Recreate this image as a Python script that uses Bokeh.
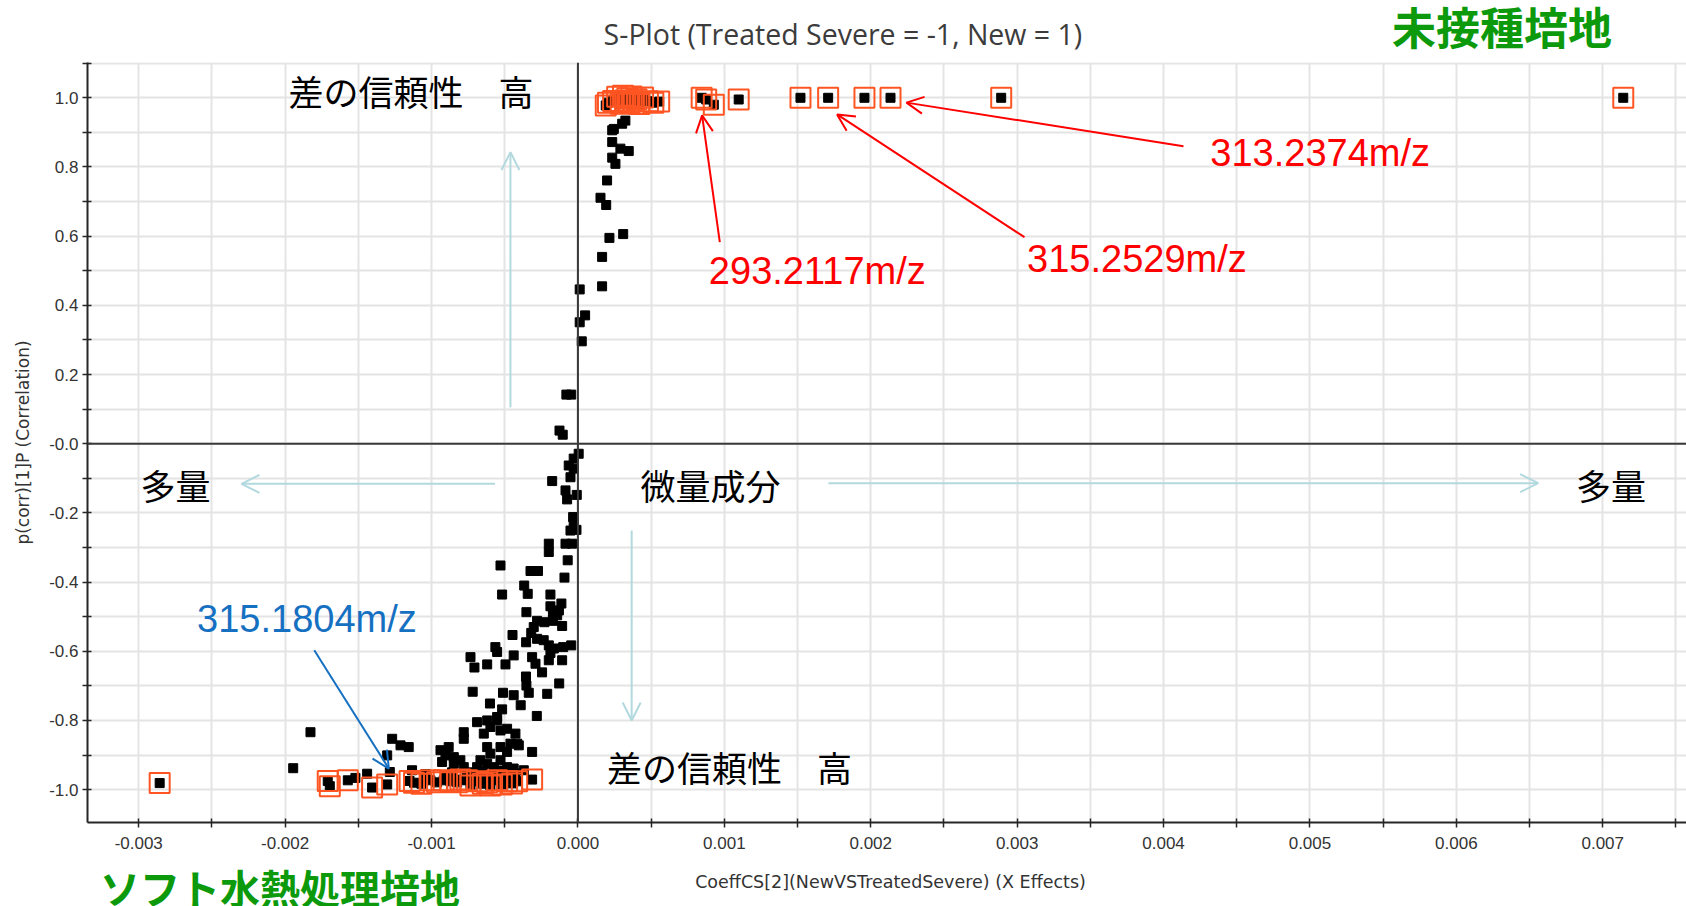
from bokeh.plotting import figure
from bokeh.layouts import column
from bokeh.models import Range1d, FixedTicker, Span, Label, Arrow, OpenHead
from bokeh.embed import file_html
from bokeh.resources import INLINE

# Coefficients are listed in units of 1e-3 (CoeffCS), correlations as p(corr).
E3 = 1e-3

# positive branch of the S (rising towards p(corr) = +1)
upper_coeff_e3 = [0.154, 0.193, 0.215, 0.309, 0.165, 0.165, 0.012, 0.049, 0.012, 0.026,
                  -0.079, -0.046, -0.126, -0.104,
                  0.324, 0.302, 0.245, 0.234, 0.234, 0.290, 0.347, 0.234, 0.256, 0.199]
upper_corr = [0.711, 0.690, 0.595, 0.606, 0.540, 0.455, 0.446, 0.371, 0.351, 0.296,
              0.142, 0.142, 0.038, 0.026,
              0.934, 0.925, 0.910, 0.906, 0.872, 0.853, 0.846, 0.827, 0.809, 0.761]

# selected variables close to p(corr) = +1
top_coeff_e3 = [0.190, 0.205, 0.240, 0.268, 0.292, 0.308, 0.322, 0.338, 0.352, 0.366,
                0.382, 0.400, 0.420, 0.445, 0.478, 0.515, 0.555,
                0.845, 0.876, 0.928, 1.098, 1.520, 1.709, 1.957, 2.135, 2.891, 7.140]
top_corr = [0.978, 0.986, 0.991, 1.003, 0.983, 1.006, 0.992, 0.999, 0.985, 1.004,
            0.990, 0.996, 0.982, 1.001, 0.990, 0.986, 0.989,
            1.000, 0.995, 0.980, 0.995, 1.000, 1.000, 1.000, 1.000, 1.000, 1.000]

# negative branch of the S (falling towards p(corr) = -1)
lower_coeff_e3 = [0.005, -0.029, -0.063, -0.029, -0.051, -0.176, -0.085, -0.074, -0.008, -0.033,
                  -0.029, -0.051, -0.010, -0.199, -0.199, -0.085, -0.040, -0.070, -0.529, -0.324,
                  -0.273, -0.092, -0.367, -0.343, -0.518, -0.188, -0.188, -0.113, -0.171, -0.130,
                  -0.142, -0.352, -0.279, -0.229, -0.171, -0.108, -0.302, -0.319, -0.447,
                  -0.354, -0.279, -0.234, -0.199, -0.165, -0.101, -0.046, -0.564, -0.552, -0.734,
                  -0.707, -0.620, -0.495, -0.439, -0.313, -0.290, -0.199, -0.188, -0.108, -0.245,
                  -0.355, -0.352, -0.336, -0.210, -0.128, -0.719, -0.601, -0.518, -0.512, -0.439,
                  -0.391, -0.281, -0.552,
                  -0.689, -0.620, -0.552, -0.598, -0.529, -0.484, -0.643, -0.780, -0.780, -0.427,
                  -0.415, -0.939, -0.883, -0.905, -0.848, -0.803, -0.780, -0.620, -0.598, -0.529,
                  -0.484, -0.461, -0.404, -0.313, -0.666, -0.689, -0.620, -0.575, -0.529, -0.484,
                  -0.439, -0.928, -0.848, -0.370,
                  -1.827, -1.945, -1.269, -1.212, -1.156, -1.303, -1.285, -1.440, -1.133, -1.520,
                  -0.734, -0.666, -0.564, -0.495, -0.427, -0.760, -0.600, -0.540, -0.650, -0.700,
                  -0.460, -0.860, -0.900, -1.040]
lower_corr = [-0.029, -0.043, -0.063, -0.072, -0.097, -0.108, -0.135, -0.161, -0.148, -0.212,
              -0.231, -0.251, -0.249, -0.289, -0.313, -0.289, -0.289, -0.337, -0.352, -0.368,
              -0.368, -0.387, -0.410, -0.434, -0.436, -0.436, -0.470, -0.462, -0.488, -0.482,
              -0.496, -0.487, -0.512, -0.516, -0.512, -0.527, -0.530, -0.547, -0.553,
              -0.574, -0.564, -0.568, -0.583, -0.592, -0.588, -0.583, -0.588, -0.602, -0.617,
              -0.647, -0.638, -0.638, -0.612, -0.617, -0.636, -0.626, -0.605, -0.626, -0.661,
              -0.673, -0.699, -0.720, -0.723, -0.693, -0.717, -0.751, -0.768, -0.720, -0.727,
              -0.756, -0.787, -0.790,
              -0.805, -0.800, -0.800, -0.819, -0.829, -0.824, -0.838, -0.834, -0.853, -0.838,
              -0.867, -0.886, -0.877, -0.901, -0.906, -0.915, -0.935, -0.877, -0.896, -0.877,
              -0.891, -0.867, -0.872, -0.891, -0.915, -0.935, -0.925, -0.935, -0.915, -0.935,
              -0.939, -0.920, -0.925, -0.944,
              -0.834, -0.938, -0.853, -0.872, -0.877, -0.901, -0.949, -0.954, -0.944, -0.966,
              -0.950, -0.958, -0.950, -0.958, -0.953, -0.960, -0.962, -0.945, -0.948, -0.965,
              -0.962, -0.950, -0.960, -0.955]

# selected variables close to p(corr) = -1
bottom_coeff_e3 = [-2.857, -1.709, -1.695, -1.572, -1.406, -1.303, -1.150, -1.120, -1.069, -1.008,
                   -0.962, -0.917, -0.871, -0.825, -0.803, -0.757, -0.734, -0.689, -0.650, -0.620,
                   -0.598, -0.552, -0.520, -0.484, -0.450, -0.415, -0.313]
bottom_corr = [-0.981, -0.975, -0.990, -0.973, -0.994, -0.985, -0.975, -0.980, -0.983, -0.973,
               -0.979, -0.973, -0.976, -0.979, -0.971, -0.973, -0.988, -0.976, -0.983, -0.979,
               -0.988, -0.973, -0.985, -0.976, -0.982, -0.976, -0.971]

# axis ticks
x_ticks = [-0.003, -0.002, -0.001, 0.0, 0.001, 0.002, 0.003, 0.004, 0.005, 0.006, 0.007]
x_tick_labels = ["-0.003", "-0.002", "-0.001", "0.000", "0.001", "0.002", "0.003",
                 "0.004", "0.005", "0.006", "0.007"]
x_minor_ticks = [-0.0025, -0.0015, -0.0005, 0.0005, 0.0015, 0.0025, 0.0035, 0.0045,
                 0.0055, 0.0065, 0.0075]
y_ticks = [-1.0, -0.8, -0.6, -0.4, -0.2, 0.0, 0.2, 0.4, 0.6, 0.8, 1.0]
y_tick_labels = ["-1.0", "-0.8", "-0.6", "-0.4", "-0.2", "-0.0", "0.2", "0.4", "0.6", "0.8", "1.0"]
y_minor_ticks = [-1.1, -0.9, -0.7, -0.5, -0.3, -0.1, 0.1, 0.3, 0.5, 0.7, 0.9, 1.1]

# labelled m/z features: (text, label centre, arrow tail, arrow tip), x in 1e-3
red_callouts = [
    ("313.2374m/z", (5.070, 0.840), (4.136, 0.860), (2.244, 0.986)),
    ("315.2529m/z", (3.818, 0.533), (3.050, 0.597), (1.770, 0.952)),
    ("293.2117m/z", (1.635, 0.499), (0.969, 0.583), (0.848, 0.949)),
]
blue_callouts = [
    ("315.1804m/z", (-1.851, -0.506), (-1.801, -0.597), (-1.292, -0.939)),
]

all_x = [v * E3 for v in upper_coeff_e3 + top_coeff_e3 + lower_coeff_e3 + bottom_coeff_e3]
all_y = upper_corr + top_corr + lower_corr + bottom_corr
sel_x = [v * E3 for v in top_coeff_e3 + bottom_coeff_e3]
sel_y = top_corr + bottom_corr

W = 1686
X_LO, X_HI = -0.00335, 0.007572          # plotted coefficient range
Y_LO, Y_HI = -1.095, 1.102               # plotted correlation range
LEFT, TOP_H, FRAME_H, AXIS_H, BOTTOM_H = 87, 62, 760, 40, 44
px_y = (Y_HI - Y_LO) / FRAME_H

JP = "Noto Sans CJK JP"
GREEN = "#0c9a0c"
AX_COL = "#262626"
TICK_FONT = "Liberation Sans"
LABEL_FONT = "DejaVu Sans"


def strip(height, y_lo, y_hi):
    # header / footer row; the column layout aligns its frame with the main plot's frame
    s = figure(width=W, height=height, output_backend="svg", toolbar_location=None,
               x_range=Range1d(X_LO, X_HI), y_range=Range1d(y_lo, y_hi),
               x_axis_location=None, y_axis_location=None,
               min_border_left=0, min_border_right=0, min_border_top=0, min_border_bottom=0,
               background_fill_color="white", border_fill_color="white",
               outline_line_color=None)
    s.grid.visible = False
    return s


# header: title and the medium label on the right
head = strip(TOP_H, Y_HI, Y_HI + TOP_H * px_y)
head.add_layout(Label(x=1.810 * E3, y=1.183, text="S-Plot (Treated Severe = -1, New = 1)",
                      text_align="center", text_baseline="middle", text_font="Open Sans",
                      text_font_size="28.5px", text_color="#3c3c3c"))
head.add_layout(Label(x=6.311 * E3, y=1.208, text="未接種培地", text_align="center",
                      text_baseline="middle", text_font=JP, text_font_size="44px",
                      text_font_style="bold", text_color=GREEN))

# main S-plot
p = figure(width=W, height=FRAME_H + AXIS_H, output_backend="svg", toolbar_location=None,
           x_range=Range1d(X_LO, X_HI), y_range=Range1d(Y_LO, Y_HI),
           min_border_left=LEFT, min_border_right=0, min_border_top=0,
           min_border_bottom=AXIS_H,
           background_fill_color="white", border_fill_color="white", outline_line_color=None)

xa = p.xaxis[0]
xa.ticker = FixedTicker(ticks=x_ticks, minor_ticks=x_minor_ticks)
xa.major_label_overrides = dict(zip(x_ticks, x_tick_labels))
xa.major_label_standoff = 9

ya = p.yaxis[0]
ya.ticker = FixedTicker(ticks=y_ticks, minor_ticks=y_minor_ticks)
ya.major_label_overrides = dict(zip(y_ticks, y_tick_labels))
ya.axis_label = "p(corr)[1]P (Correlation)"
ya.major_label_standoff = 4
ya.axis_label_standoff = 13
ya.axis_label_text_font = LABEL_FONT
ya.axis_label_text_font_size = "17px"
ya.axis_label_text_font_style = "normal"
ya.axis_label_text_color = "#333333"

for ax in (xa, ya):
    ax.axis_line_color = AX_COL
    ax.axis_line_width = 2
    ax.major_tick_line_color = AX_COL
    ax.minor_tick_line_color = AX_COL
    ax.major_tick_line_width = 1.5
    ax.minor_tick_line_width = 1.5
    ax.major_tick_in = 4
    ax.major_tick_out = 5
    ax.minor_tick_in = 4
    ax.minor_tick_out = 5
    ax.major_label_text_font = TICK_FONT
    ax.major_label_text_font_size = "17px"
    ax.major_label_text_color = "#333333"

for g in (p.xgrid[0], p.ygrid[0]):
    g.grid_line_color = "#e4e4e4"
    g.grid_line_width = 2
    g.minor_grid_line_color = "#e4e4e4"
    g.minor_grid_line_width = 2

# origin cross
p.add_layout(Span(location=0, dimension="height", line_color="#3a3a3a", line_width=2))
p.add_layout(Span(location=0, dimension="width", line_color="#3a3a3a", line_width=2))

# all variables, then highlight boxes for the selected ones
p.scatter(all_x, all_y, marker="square", size=9, color="black")
p.scatter(sel_x, sel_y, marker="square", size=20, fill_color=None,
          line_color="#ff5522", line_width=2)

# light guide arrows
GUIDE = "#b2d9de"
guides = [((-0.461, 0.105), (-0.461, 0.843)),
          ((-0.566, -0.116), (-2.298, -0.116)),
          ((1.711, -0.114), (6.559, -0.114)),
          ((0.367, -0.251), (0.367, -0.800))]
for (x0, y0), (x1, y1) in guides:
    p.add_layout(Arrow(x_start=x0 * E3, y_start=y0, x_end=x1 * E3, y_end=y1,
                       line_color=GUIDE, line_width=2,
                       end=OpenHead(size=18, line_color=GUIDE, line_width=2)))

notes = [("差の信頼性　高", -1.141, 1.022), ("多量", -2.749, -0.117),
         ("微量成分", 0.905, -0.117), ("多量", 7.056, -0.117),
         ("差の信頼性　高", 1.035, -0.932)]
for txt, x, y in notes:
    p.add_layout(Label(x=x * E3, y=y, text=txt, text_align="center", text_baseline="middle",
                       text_font=JP, text_font_size="35px", text_color="black"))

for callouts, col in ((red_callouts, "#ff0000"), (blue_callouts, "#1670c2")):
    for txt, (lx, ly), (tx, ty), (hx, hy) in callouts:
        p.add_layout(Arrow(x_start=tx * E3, y_start=ty, x_end=hx * E3, y_end=hy,
                           line_color=col, line_width=2,
                           end=OpenHead(size=17, line_color=col, line_width=2)))
        p.add_layout(Label(x=lx * E3, y=ly, text=txt, text_align="center",
                           text_baseline="middle", text_font="Liberation Sans",
                           text_font_size="38px", text_color=col))

# footer: x-axis title and the medium label on the left
foot_hi = Y_LO - AXIS_H * px_y
foot = strip(BOTTOM_H, foot_hi - BOTTOM_H * px_y, foot_hi)
foot.add_layout(Label(x=2.135 * E3, y=-1.268, text="CoeffCS[2](NewVSTreatedSevere) (X Effects)",
                      text_align="center", text_baseline="middle", text_font=LABEL_FONT,
                      text_font_size="17.5px", text_color="#333333"))
foot.add_layout(Label(x=-2.035 * E3, y=-1.282, text="ソフト水熱処理培地", text_align="center",
                      text_baseline="middle", text_font=JP, text_font_size="40px",
                      text_font_style="bold", text_color=GREEN))

layout = column(head, p, foot, spacing=0)
open("out.html", "w").write(file_html(layout, INLINE))
